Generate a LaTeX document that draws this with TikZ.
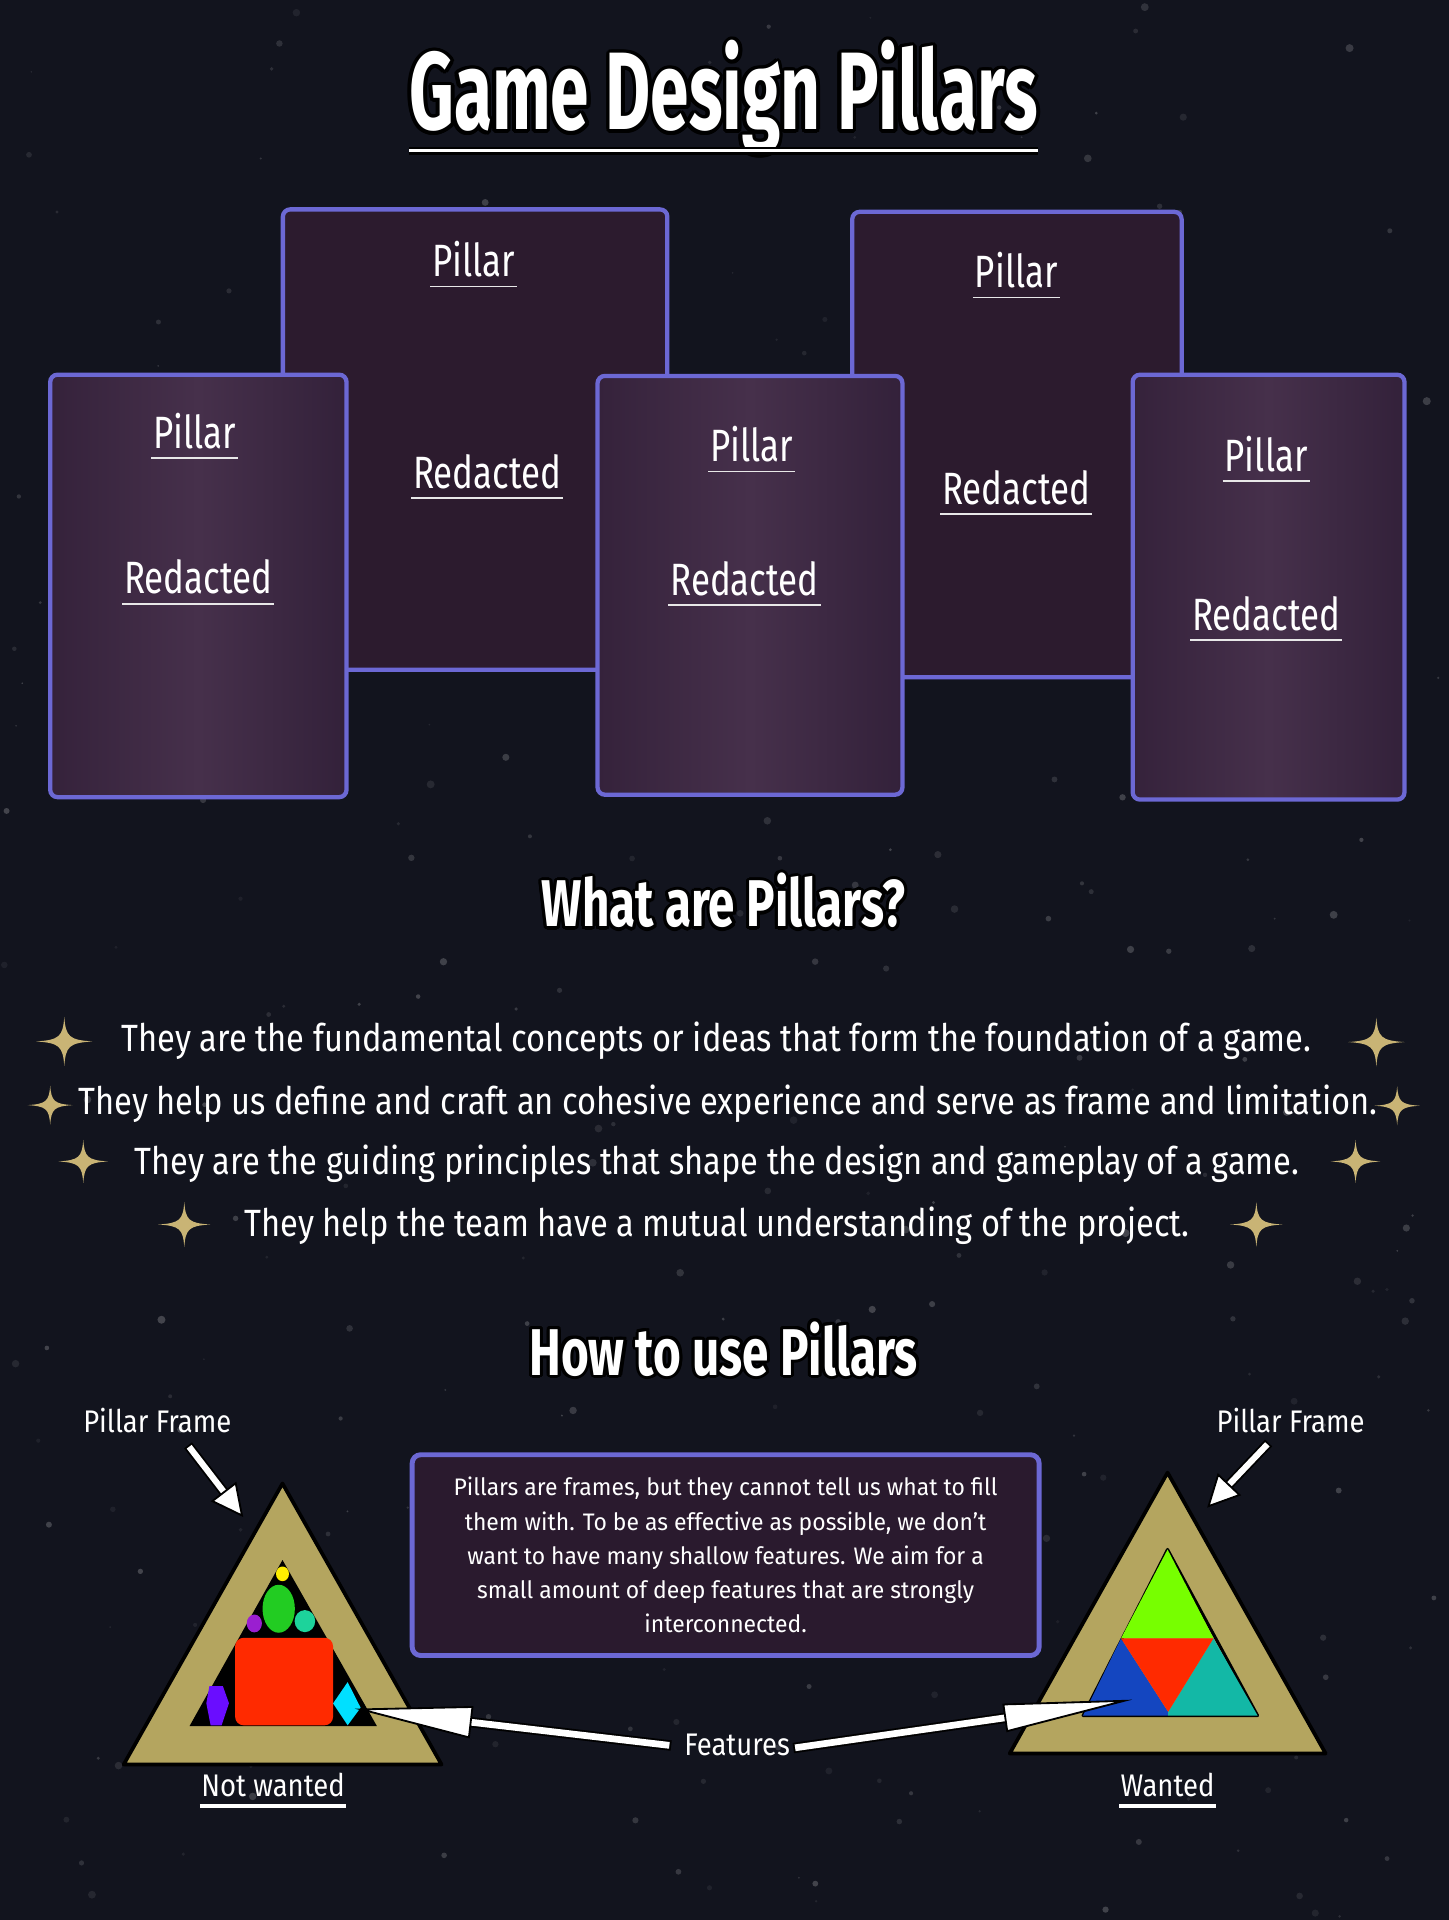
\documentclass[tikz,border=0pt]{standalone}
\usepackage{fontspec}
\setmainfont{Fira Sans}[FakeStretch=0.77]
\newfontfamily\bodyfont{Fira Sans}[FakeStretch=0.86]
\newfontfamily\labelfont{Fira Sans}[FakeStretch=0.88]
\newfontfamily\boxfont{Fira Sans}[FakeStretch=0.96]
\newfontfamily\titlefont{Fira Sans}[FakeStretch=0.63]
\newfontfamily\headfont{Fira Sans}[FakeStretch=0.72]
\usetikzlibrary{calc}
\definecolor{bg}{HTML}{12141E}
\definecolor{cardedge}{HTML}{6C68D4}
\definecolor{backfill}{HTML}{2C1B2E}
\definecolor{frontmid}{HTML}{46304B}
\definecolor{frontleft}{HTML}{35223B}
\definecolor{frontright}{HTML}{33213A}
\definecolor{boxfill}{HTML}{2A1A2E}
\definecolor{gold}{HTML}{C9B475}
\definecolor{tanframe}{HTML}{B4A55F}
\definecolor{fred}{HTML}{FF2A00}
\definecolor{fyellow}{HTML}{FFEE00}
\definecolor{fgreen}{HTML}{22CC22}
\definecolor{fpurple}{HTML}{9A1FD0}
\definecolor{fmint}{HTML}{1DD39B}
\definecolor{fviolet}{HTML}{6A0DFF}
\definecolor{fcyan}{HTML}{00E0FF}
\definecolor{flime}{HTML}{77FF00}
\definecolor{fblue}{HTML}{1446C0}
\definecolor{fteal}{HTML}{13B8A6}
% white text with a black outline made of shifted black copies
\newlength\olrad
\newcommand\olc[2]{\rlap{\kern#1\olrad\raisebox{#2\olrad}{\color{black}\olbody}}}
\newcommand\outlined[2]{{\setlength\olrad{#1}\def\olbody{#2}\leavevmode
 \olc{1}{0}\olc{0.924}{0.383}\olc{0.707}{0.707}\olc{0.383}{0.924}\olc{0}{1}%
 \olc{-0.383}{0.924}\olc{-0.707}{0.707}\olc{-0.924}{0.383}\olc{-1}{0}%
 \olc{-0.924}{-0.383}\olc{-0.707}{-0.707}\olc{-0.383}{-0.924}\olc{0}{-1}%
 \olc{0.383}{-0.924}\olc{0.707}{-0.707}\olc{0.924}{-0.383}#2}}
\newcommand\fatarrow[5]{%
  \coordinate (fa-b) at ($(#2)!#3!(#1)$);
  \draw[black, line width=#5+3pt, shorten <=-1.5pt] (#1) -- (fa-b);
  \draw[white, line width=#5] (#1) -- (fa-b);
  \draw[black, fill=white, line width=1.5pt, line join=miter]
    (#2) -- ($(fa-b)!#4!90:(#2)$) -- ($(fa-b)!#4!-90:(#2)$) -- cycle;
}
\newcommand\ulnode[5]{%
  \node[#1] (#2) at #3 {#4};
  \draw[#5] ($(#2.base west)+(0,8)$) -- ($(#2.base east)+(0,8)$);
}
\tikzset{
  card/.style={draw=cardedge, line width=3.5pt, rounded corners=6pt},
  backcard/.style={card, fill=backfill},
  frontcard/.style={card, left color=frontleft, right color=frontright, middle color=frontmid},
  cardtext/.style={text=white, anchor=base, inner sep=1.5pt, font=\fontsize{37}{40}\selectfont},
  uline/.style={draw=white!82!gray, line width=1.5pt},
  thickuline/.style={draw=white, line width=3pt},
  bullet/.style={text=white, anchor=base, inner sep=0pt, font=\bodyfont\fontsize{31}{36}\selectfont},
  heading/.style={text=white, anchor=base, inner sep=0pt, font=\headfont\bfseries\fontsize{54}{60}\selectfont},
  label/.style={text=white, anchor=base, inner sep=1pt, font=\labelfont\fontsize{25.5}{30}\selectfont},
  textbox/.style={draw=cardedge, fill=boxfill, line width=4pt, rounded corners=7pt,
    minimum width=512pt, minimum height=164pt, align=center, text=white,
    font=\boxfont\fontsize{19.5}{28}\selectfont},
  frame/.style={fill=tanframe, draw=black, line width=3pt, line join=round},
  sparkle/.pic={\fill[gold] (23,0) .. controls (4,1.2) and (1.2,4) .. (0,20)
      .. controls (-1.2,4) and (-4,1.2) .. (-23,0)
      .. controls (-4,-1.2) and (-1.2,-4) .. (0,-20)
      .. controls (1.2,-4) and (4,-1.2) .. (23,0) -- cycle;},
}
\begin{document}
\begin{tikzpicture}[x=1pt,y=-1pt]
\useasboundingbox (0,0) rectangle (1183,1568);
\fill[bg] (0,0) rectangle (1183,1568);
% faint background specks
\pgfmathsetseed{4217}
\foreach \i in {1,...,320}{
  \pgfmathsetmacro\sx{rnd*1183}
  \pgfmathsetmacro\sy{rnd*1568}
  \pgfmathsetmacro\sr{0.7+2.6*rnd}
  \pgfmathsetmacro\so{0.05+0.16*rnd}
  \fill[white, opacity=\so] (\sx,\sy) circle[radius=\sr];
}

% ---------- title ----------
\node[text=white, anchor=base, inner sep=0pt, font=\titlefont\bfseries\fontsize{90}{96}\selectfont]
  (title) at (591,106) {\outlined{3pt}{Game Design Pillars}};
\draw[black, line width=6.5pt] ($(title.base west)+(0,17)$) -- ($(title.base east)+(0,17)$);
\draw[white, line width=3pt] ($(title.base west)+(0,17)$) -- ($(title.base east)+(0,17)$);

% ---------- cards ----------
\path[backcard] (231,171) rectangle (545,547);
\path[backcard] (696,173) rectangle (965,553);
\path[frontcard] (41,306) rectangle (283,651);
\path[frontcard] (488,307) rectangle (737,649);
\path[frontcard] (925,306) rectangle (1147,653);

\ulnode{cardtext}{p1}{(387,226)}{Pillar}{uline}
\ulnode{cardtext}{r1}{(398,399)}{Redacted}{uline}
\ulnode{cardtext}{p2}{(830,235)}{Pillar}{uline}
\ulnode{cardtext}{r2}{(830,412)}{Redacted}{uline}
\ulnode{cardtext}{p3}{(159,366)}{Pillar}{uline}
\ulnode{cardtext}{r3}{(162,485)}{Redacted}{uline}
\ulnode{cardtext}{p4}{(614,377)}{Pillar}{uline}
\ulnode{cardtext}{r4}{(608,486)}{Redacted}{uline}
\ulnode{cardtext}{p5}{(1034,385)}{Pillar}{uline}
\ulnode{cardtext}{r5}{(1034,515)}{Redacted}{uline}

% ---------- what are pillars ----------
\node[heading] (what) at (591,757) {\outlined{2.5pt}{What are Pillars?}};

\node[bullet] (b1) at (585,859) {They are the fundamental concepts or ideas that form the foundation of a game.};
\node[bullet] (b2) at (594.5,910) {They help us define and craft an cohesive experience and serve as frame and limitation.};
\node[bullet] (b3) at (585.5,959) {They are the guiding principles that shape the design and gameplay of a game.};
\node[bullet] (b4) at (585.5,1010) {They help the team have a mutual understanding of the project.};

\pic at (52.5,850.5) {sparkle};
\pic at (1124,851) {sparkle};
\pic[scale=0.8] at (41,902.5) {sparkle};
\pic[scale=0.8] at (1141,903) {sparkle};
\pic[scale=0.88] at (68,948.5) {sparkle};
\pic[scale=0.88] at (1107,948.5) {sparkle};
\pic[scale=0.92] at (150.5,1000) {sparkle};
\pic[scale=0.92] at (1026,1000) {sparkle};

% ---------- how to use pillars ----------
\node[heading] (how) at (591,1123) {\outlined{2.5pt}{How to use Pillars}};

\node[textbox] (box) at (592.6,1270) {Pillars are frames, but they cannot tell us what to fill\\
them with. To be as effective as possible, we don’t\\
want to have many shallow features. We aim for a\\
small amount of deep features that are strongly\\
interconnected.};

% left triangle (not wanted)
\path[frame] (230.7,1211.5) -- (101,1441) -- (360.6,1441) -- cycle;
\fill[black] (230.7,1274) -- (154.8,1409.6) -- (307.8,1409.6) -- cycle;
\fill[fred, rounded corners=7pt] (192,1337.5) rectangle (272,1409);
\fill[fyellow] (230.7,1285.3) ellipse[x radius=5.3, y radius=6];
\fill[fgreen] (227.6,1313.8) ellipse[x radius=13.2, y radius=19.6];
\fill[fpurple] (207.7,1325.8) ellipse[x radius=6.2, y radius=7.3];
\fill[fmint] (249,1323.9) ellipse[x radius=8.4, y radius=9];
\fill[fviolet] (171,1377) -- (182,1377) -- (187,1391) -- (181,1409) -- (172,1409) -- (168.5,1391) -- cycle;
\fill[fcyan] (283.9,1373.7) -- (294.5,1394.6) -- (283.9,1409) -- (272,1391.1) -- cycle;

% right triangle (wanted)
\path[frame] (953.5,1202.6) -- (824.6,1432) -- (1082.6,1432) -- cycle;
\draw[black, line width=2.5pt, line join=round] (953.5,1265.4) -- (884.5,1401) -- (1027,1401) -- cycle;
\fill[flime] (953.5,1265.4) -- (915.5,1338) -- (991,1338) -- cycle;
\fill[fblue] (915.5,1338) -- (884.5,1401) -- (954,1401) -- (954,1398) -- cycle;
\fill[fteal] (991,1338) -- (1027,1401) -- (954,1401) -- (954,1398) -- cycle;
\fill[fred] (915.5,1338) -- (991,1338) -- (954,1398) -- cycle;

% labels
\node[label] (pfl) at (128.5,1170) {Pillar Frame};
\node[label] (pfr) at (1054,1170) {Pillar Frame};
\ulnode{label}{nw}{(223,1467)}{Not wanted}{thickuline}
\ulnode{label}{wt}{(953.5,1467)}{Wanted}{thickuline}
\node[label] (feat) at (602,1434) {Features};

% arrows
\coordinate (pflt) at (197.6,1237.6);
\coordinate (pfrt) at (987,1230);
\coordinate (flt) at (295,1396);
\coordinate (frt) at (918,1389);
\fatarrow{$(pfl.south)+(26,10)$}{pflt}{24pt}{12pt}{5pt}
\fatarrow{$(pfr.south)+(-19,8)$}{pfrt}{24pt}{12pt}{5pt}
\fatarrow{$(feat.west)+(-11,0)$}{flt}{90pt}{12.5pt}{5.5pt}
\fatarrow{$(feat.east)+(3,2)$}{frt}{98pt}{11pt}{5.5pt}
\end{tikzpicture}
\end{document}
